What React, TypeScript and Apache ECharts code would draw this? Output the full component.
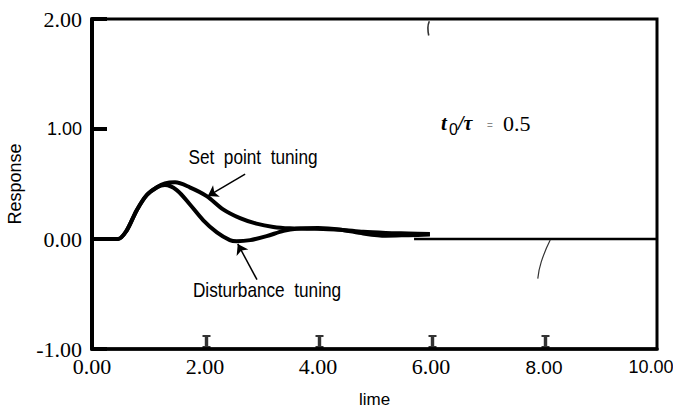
import React, { useEffect, useRef } from "react";
import * as echarts from "echarts";

// ---- data ----
const setPointTime = [0, 0.46, 0.61, 0.79, 0.97, 1.15, 1.29, 1.47, 1.73, 2.03, 2.32, 2.62, 2.91, 3.21, 3.5, 3.8, 4.09, 4.4, 4.8, 5.2, 5.6, 5.98];
const setPointResp = [0, 0, 0.074, 0.26, 0.4, 0.47, 0.505, 0.515, 0.47, 0.39, 0.27, 0.19, 0.14, 0.11, 0.097, 0.094, 0.09, 0.085, 0.065, 0.055, 0.05, 0.045];

const disturbanceTime = [0, 0.46, 0.61, 0.79, 0.97, 1.15, 1.29, 1.5, 1.73, 1.97, 2.21, 2.44, 2.56, 2.8, 3.09, 3.39, 3.62, 4.0, 4.4, 4.8, 5.2, 5.6, 5.98];
const disturbanceResp = [0, 0, 0.074, 0.26, 0.4, 0.47, 0.49, 0.444, 0.316, 0.17, 0.06, -0.01, -0.02, -0.01, 0.026, 0.074, 0.094, 0.1, 0.085, 0.05, 0.03, 0.035, 0.04];

const baselineTime = [5.7, 10];
const baselineResp = [0, 0];

// stray scan marks
const markLowTime = [8.11, 7.95, 7.89];
const markLowResp = [-0.01, -0.21, -0.36];
const markTopTime = [5.97, 5.945, 5.96];
const markTopResp = [1.98, 1.92, 1.85];

const xTickValues = [0, 2, 4, 6, 8, 10];
const xTickLabels = ["0.00", "2.00", "4.00", "6.00", "8.00", "10.00"];
const xSerifTickValues = [2, 4, 6, 8];
const yTickValues = [-1, 0, 1, 2];
const yTickLabels = ["-1.00", "0.00", "1.00", "2.00"];
const Y_MIN = -1;

// arrows: [fromX, fromY, toX, toY]
const setPointArrow = [2.71, 0.59, 2.05, 0.39];
const disturbanceArrow = [2.92, -0.37, 2.58, -0.045];

// label font styles (not data)
const xLabelStyle = ["serif", "serif", "serif", "serif", "narrow", "narrowSm"];
const yLabelStyle = ["serif", "serif", "sans", "serif"];

const zip = (a: number[], b: number[]) => a.map((v, i) => [v, b[i]]);

const SERIF = '"Liberation Serif", "Times New Roman", serif';
const SANS = '"Liberation Sans", Arial, sans-serif';

const rich = {
  serif: { fontFamily: SERIF, fontSize: 22, color: "#000" },
  sans: { fontFamily: SANS, fontSize: 18, color: "#000" },
  narrow: { fontFamily: SANS, fontSize: 19, color: "#000", padding: [3, 0, 0, 0] },
  narrowSm: { fontFamily: SANS, fontSize: 18, color: "#000", padding: [3, 12, 0, 0] },
};

const arrowLine = (a: number[]) => ({
  silent: true,
  symbol: ["none", "arrow"],
  symbolSize: 10,
  label: { show: false },
  lineStyle: { type: "solid", color: "#000", width: 1.5 },
  data: [[{ coord: [a[0], a[1]] }, { coord: [a[2], a[3]] }]],
});

// serif "I"-shaped tick mark
const I_PATH = "path://M0,0 H7 V1.8 H5 V10.2 H7 V12 H0 V10.2 H2 V1.8 H0 Z";

export default function App() {
  const ref = useRef<HTMLDivElement>(null);
  useEffect(() => {
    if (!ref.current) return;
    const chart = echarts.init(ref.current, undefined, { renderer: "svg" });
    const option: any = {
      animation: false,
      backgroundColor: "#fff",
      grid: {
        left: 92,
        right: 16,
        top: 19,
        bottom: 62,
        containLabel: false,
        outerBoundsMode: "none",
        show: true,
        borderColor: "#000",
        borderWidth: 3,
      },
      xAxis: {
        type: "value",
        min: 0,
        max: 10,
        interval: 2,
        name: "lime",
        nameLocation: "middle",
        nameGap: 42,
        nameTextStyle: { fontFamily: SANS, fontSize: 17, color: "#000" },
        axisLine: { show: true, onZero: false, lineStyle: { color: "#000", width: 3.5 } },
        axisTick: { show: false },
        axisLabel: {
          margin: 6,
          formatter: (v: number) => {
            const i = xTickValues.indexOf(v);
            return i < 0 ? "" : `{${xLabelStyle[i]}|${xTickLabels[i]}}`;
          },
          rich,
        },
        splitLine: { show: false },
        z: 5,
      },
      yAxis: {
        type: "value",
        min: -1,
        max: 2,
        interval: 1,
        name: "Response",
        nameLocation: "middle",
        nameGap: 68,
        nameRotate: 90,
        nameTextStyle: { fontFamily: SANS, fontSize: 18, color: "#000" },
        axisLine: { show: true, onZero: false, lineStyle: { color: "#000", width: 4 } },
        axisTick: { show: true, inside: true, length: 15, lineStyle: { color: "#000", width: 4 } },
        axisLabel: {
          margin: 10,
          formatter: (v: number) => {
            const i = yTickValues.indexOf(v);
            return i < 0 ? "" : `{${yLabelStyle[i]}|${yTickLabels[i]}}`;
          },
          rich,
        },
        splitLine: { show: false },
        z: 5,
      },
      series: [
        {
          name: "Set point tuning",
          type: "line",
          data: zip(setPointTime, setPointResp),
          smooth: 0.3,
          symbol: "none",
          lineStyle: { color: "#000", width: 4 },
          markLine: arrowLine(setPointArrow),
        },
        {
          name: "Disturbance tuning",
          type: "line",
          data: zip(disturbanceTime, disturbanceResp),
          smooth: 0.3,
          symbol: "none",
          lineStyle: { color: "#000", width: 4 },
          markLine: arrowLine(disturbanceArrow),
        },
        {
          name: "baseline",
          type: "line",
          data: zip(baselineTime, baselineResp),
          symbol: "none",
          lineStyle: { color: "#000", width: 2.5 },
        },
        {
          name: "mark1",
          type: "line",
          data: zip(markLowTime, markLowResp),
          smooth: true,
          symbol: "none",
          lineStyle: { color: "#333", width: 1.2 },
        },
        {
          name: "mark2",
          type: "line",
          data: zip(markTopTime, markTopResp),
          smooth: true,
          symbol: "none",
          lineStyle: { color: "#333", width: 1.6 },
        },
        {
          name: "ticks",
          type: "scatter",
          data: xSerifTickValues.map((v) => [v, Y_MIN]),
          symbol: I_PATH,
          symbolSize: [8, 13],
          symbolOffset: [1.5, -7.5],
          itemStyle: { color: "#000" },
          silent: true,
          z: 6,
        },
      ],
      graphic: [
        {
          type: "text",
          x: 253,
          y: 157,
          scaleX: 0.82,
          style: { text: "Set  point  tuning", font: `21px ${SANS}`, fill: "#000", align: "center", verticalAlign: "middle" },
        },
        {
          type: "text",
          x: 267,
          y: 290,
          scaleX: 0.82,
          style: { text: "Disturbance  tuning", font: `21px ${SANS}`, fill: "#000", align: "center", verticalAlign: "middle" },
        },
        {
          type: "text",
          x: 441,
          y: 123,
          style: { text: "t", font: `italic bold 21px ${SERIF}`, fill: "#000", align: "left", verticalAlign: "middle" },
        },
        {
          type: "text",
          x: 449,
          y: 129,
          style: { text: "0", font: `16px ${SANS}`, fill: "#000", align: "left", verticalAlign: "middle" },
        },
        {
          type: "text",
          x: 458,
          y: 123,
          style: { text: "/τ", font: `italic bold 20px ${SERIF}`, fill: "#000", align: "left", verticalAlign: "middle" },
        },
        {
          type: "text",
          x: 487,
          y: 125,
          style: { text: "=", font: `10px ${SANS}`, fill: "#888", align: "left", verticalAlign: "middle" },
        },
        {
          type: "text",
          x: 503,
          y: 123,
          style: { text: "0.5", font: `22px ${SERIF}`, fill: "#000", align: "left", verticalAlign: "middle" },
        },
      ],
    };
    chart.setOption(option);
    return () => chart.dispose();
  }, []);
  return <div ref={ref} style={{ position: "absolute", left: 0, top: 0, width: 673, height: 411 }} />;
}
